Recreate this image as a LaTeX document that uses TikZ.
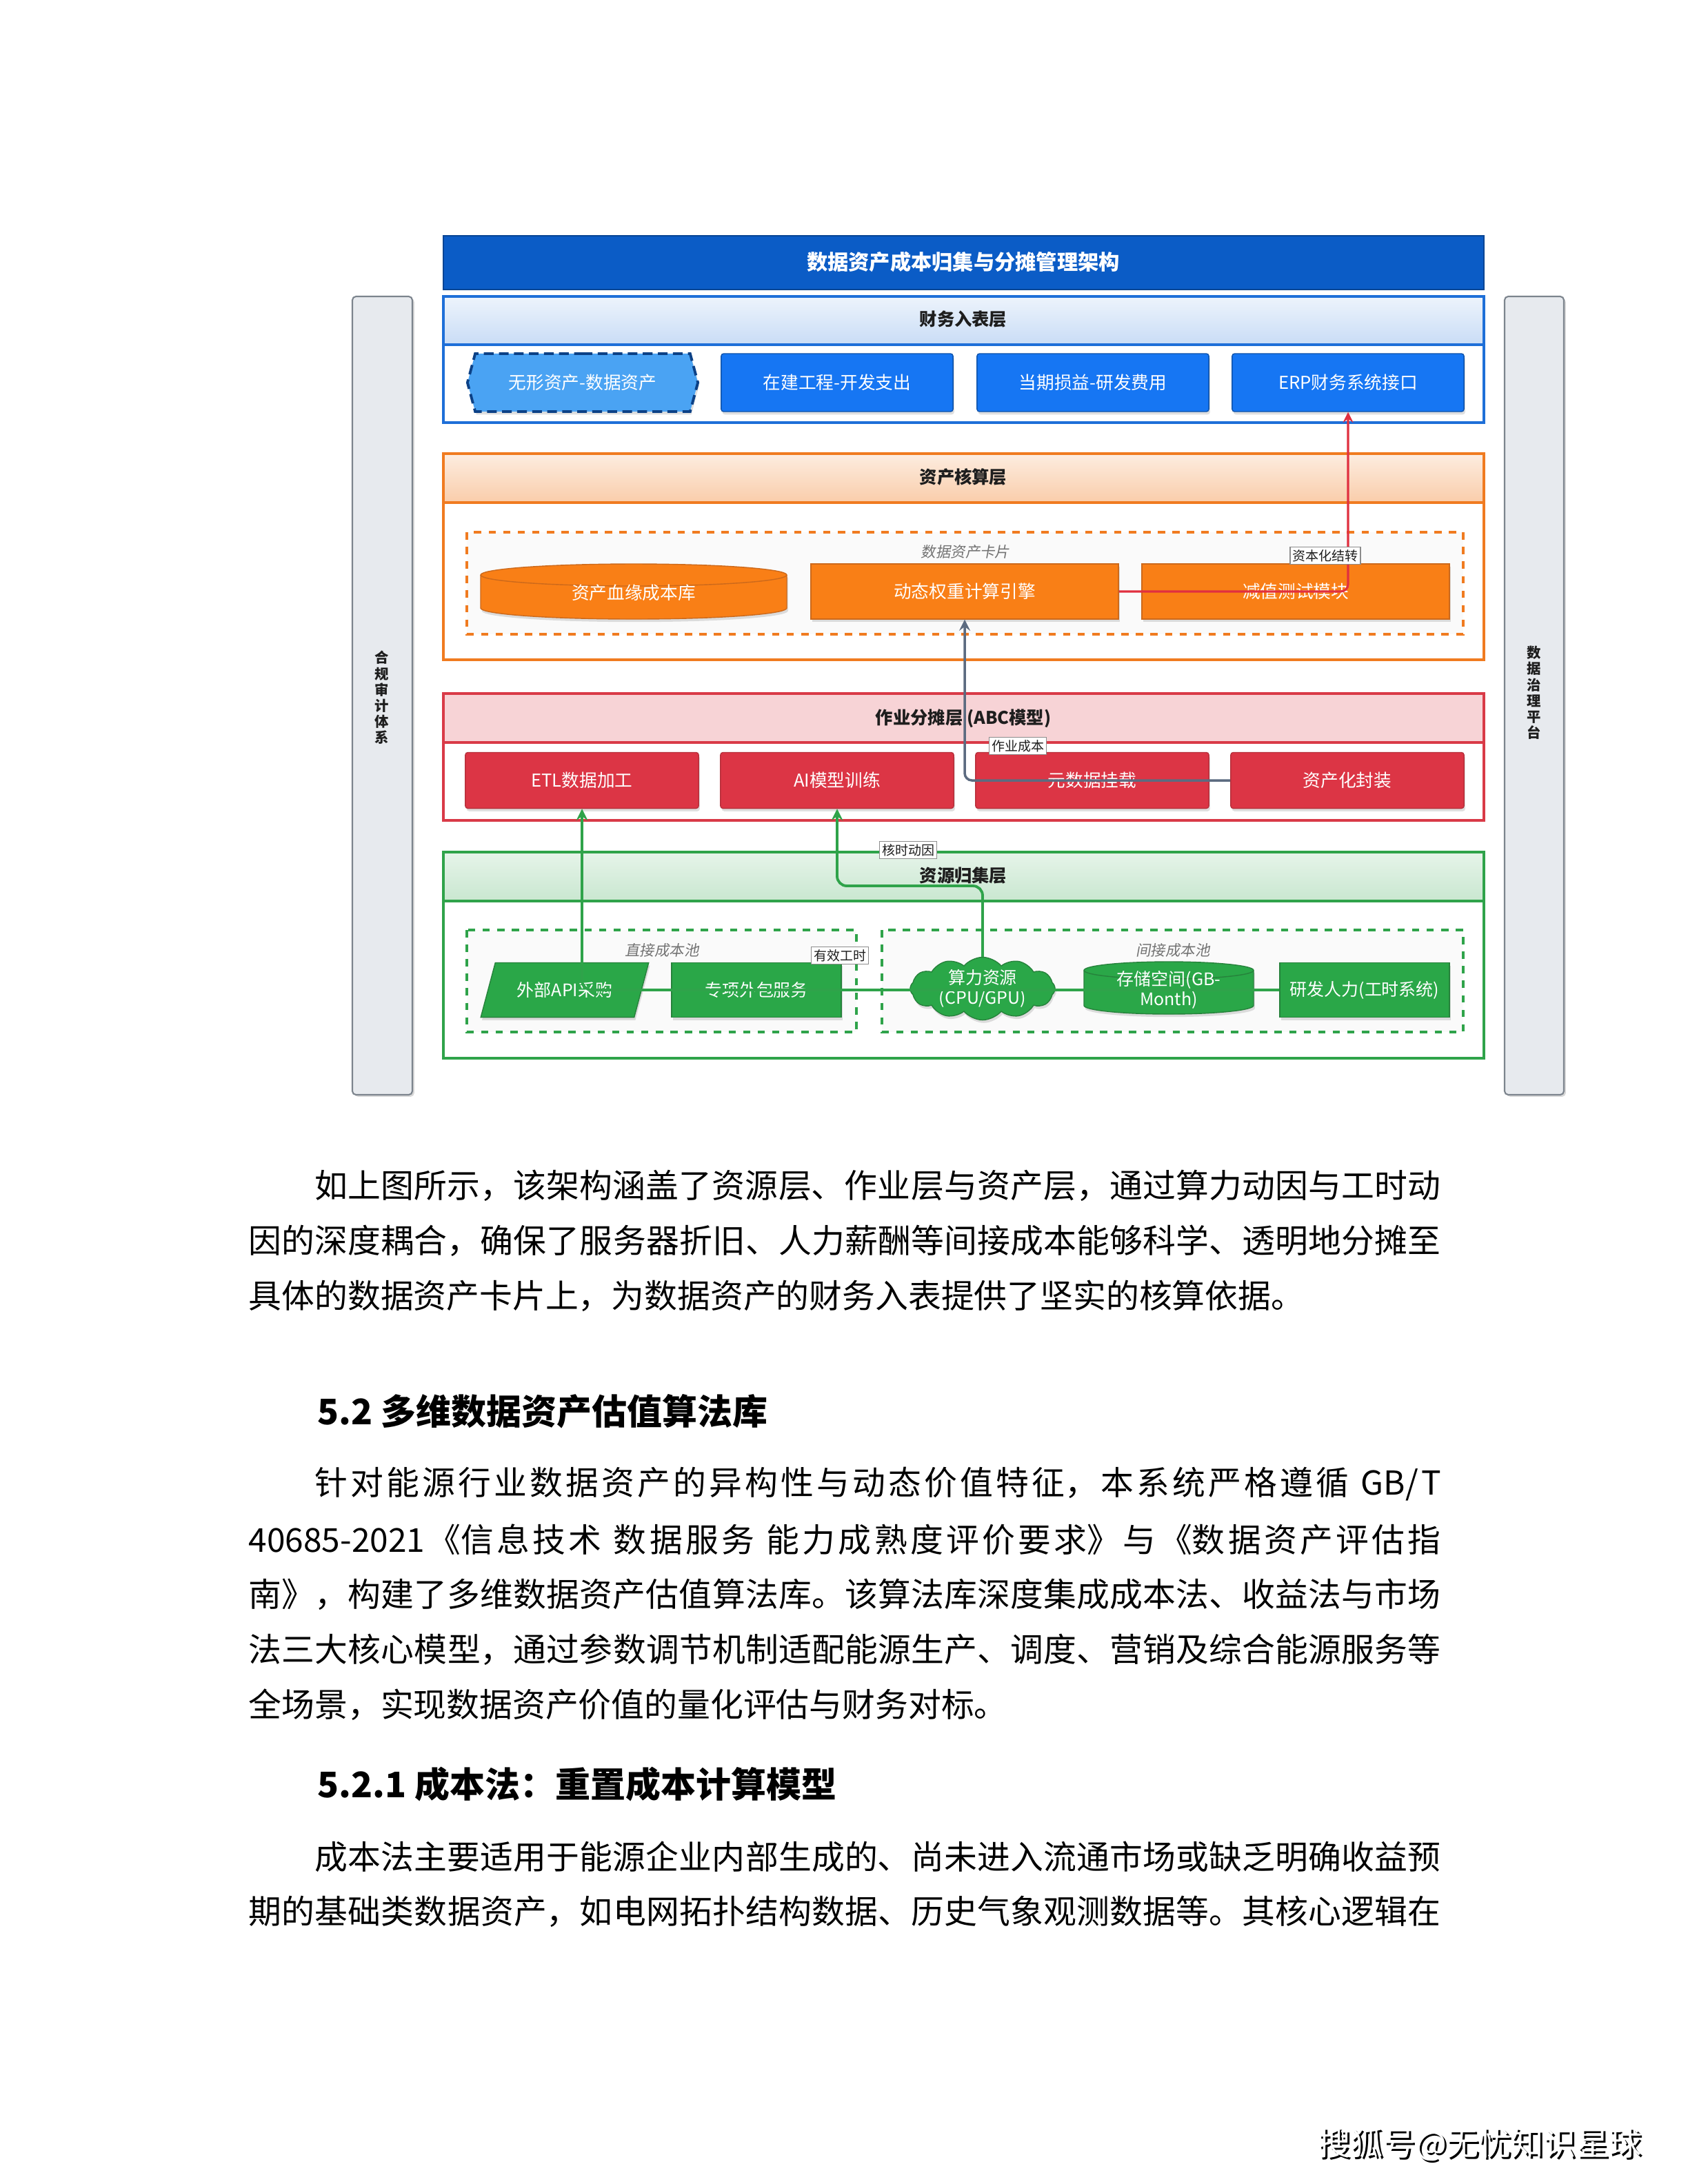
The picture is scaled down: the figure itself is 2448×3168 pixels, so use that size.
\documentclass[tikz,border=0pt]{standalone}
\usepackage{fontspec}
\setmainfont{Noto Sans CJK SC}
\newfontfamily\slantfont[FakeSlant=0.18]{Noto Sans CJK SC}
\usetikzlibrary{shapes.geometric,shapes.symbols,shadows}
\XeTeXlinebreaklocale "zh"
\XeTeXlinebreakskip=0pt plus 1pt minus 0.1pt

\definecolor{titleblue}{HTML}{0B5CC6}
\definecolor{finblue}{HTML}{1676F3}
\definecolor{finline}{HTML}{1E6FD8}
\definecolor{hexblue}{HTML}{4AA3F3}
\definecolor{assetorange}{HTML}{F97F16}
\definecolor{assetline}{HTML}{F07B20}
\definecolor{abcred}{HTML}{DC3545}
\definecolor{abcline}{HTML}{D93A47}
\definecolor{resgreen}{HTML}{2AA748}
\definecolor{resline}{HTML}{2FA34A}
\definecolor{barfill}{HTML}{E7EAEE}
\definecolor{barline}{HTML}{7C848D}
\definecolor{flowred}{HTML}{E03040}
\definecolor{flowgray}{HTML}{5C6B80}
\definecolor{inktext}{HTML}{1E1E1E}

\newcommand{\fullline}[1]{{\parfillskip=0pt\relax #1\par}}
% drum: centre x, centre y, half width, half height, cap radius (px), style
\newcommand{\drum}[6]{%
  \filldraw[#6,nodeshadow] (#1-#3,#2-#4+#5) -- (#1-#3,#2+#4-#5)
    arc[start angle=180,end angle=360,x radius=#3*0.01cm,y radius=#5*0.01cm]
    -- (#1+#3,#2-#4+#5)
    arc[start angle=0,end angle=180,x radius=#3*0.01cm,y radius=#5*0.01cm] -- cycle;
  \draw[#6,fill=none] (#1-#3,#2-#4+#5)
    arc[start angle=180,end angle=360,x radius=#3*0.01cm,y radius=#5*0.01cm];
}

\begin{document}
\begin{tikzpicture}[x=0.01cm,y=-0.01cm,
    nodeshadow/.style={drop shadow={opacity=0.25,shadow xshift=0.5pt,shadow yshift=-1.2pt}},
    titlebar/.style={fill=titleblue,draw=titleblue!75!black,line width=0.8pt},
    layertitle/.style={font=\fontsize{7.2pt}{8pt}\selectfont\bfseries,text=inktext},
    finbox/.style={draw=finblue!70!black,fill=finblue,text=white,rounded corners=1pt,
        minimum width=3.36cm,minimum height=0.84cm,inner sep=0pt,
        font=\fontsize{7.3pt}{8.5pt}\selectfont,nodeshadow},
    hexbox/.style={shape=signal,signal to=east and west,signal pointer angle=150,
        draw=finblue!55!black,fill=hexblue,text=white,dashed,
        dash pattern=on 4pt off 2.2pt,line width=1.1pt,
        minimum width=3.34cm,minimum height=0.84cm,inner sep=0pt,
        font=\fontsize{7.3pt}{8.5pt}\selectfont,nodeshadow},
    assetbox/.style={draw=assetline!85!black,fill=assetorange,text=white,
        minimum width=4.46cm,minimum height=0.80cm,inner sep=0pt,
        font=\fontsize{7.3pt}{8.5pt}\selectfont,nodeshadow},
    assetdrum/.style={draw=assetline!85!black,fill=assetorange},
    abcbox/.style={draw=abcline!85!black,fill=abcred,text=white,rounded corners=1pt,
        minimum width=3.38cm,minimum height=0.81cm,inner sep=0pt,
        font=\fontsize{7.3pt}{8.5pt}\selectfont,nodeshadow},
    resbox/.style={draw=resline!80!black,fill=resgreen,text=white,
        minimum width=2.46cm,minimum height=0.79cm,inner sep=0pt,align=center,
        font=\fontsize{7.1pt}{8.4pt}\selectfont,nodeshadow},
    resdrum/.style={draw=resline!80!black,fill=resgreen},
    drumtext/.style={text=white,inner sep=0pt,align=center},
    poollabel/.style={font=\fontsize{6.1pt}{7pt}\slantfont,text=black!55},
    sidebar/.style={draw=barline,fill=barfill,rounded corners=1.5pt,line width=0.6pt,
        drop shadow={opacity=0.3,shadow xshift=0.8pt,shadow yshift=-0.8pt}},
    sidetext/.style={align=center,font=\fontsize{5.8pt}{6.6pt}\selectfont\bfseries,text=inktext},
    tag/.style={draw=black!45,fill=white,inner sep=1pt,
        font=\fontsize{5.4pt}{6pt}\selectfont,text=inktext},
    redflow/.style={->,>=stealth,draw=flowred,line width=0.9pt,rounded corners=3pt},
    grayflow/.style={->,>=stealth,draw=flowgray,line width=1pt,rounded corners=3pt},
    greenflow/.style={->,>=stealth,draw=resline,line width=1.1pt,rounded corners=4pt},
    bodytext/.style={anchor=west,text width=17.28cm,align=justify,inner sep=0pt,
        font=\fontsize{13.6pt}{16pt}\selectfont,text=black},
    headline/.style={anchor=west,inner sep=0pt,
        font=\fontsize{14.5pt}{16pt}\selectfont\bfseries,text=black}
]
    \useasboundingbox (0,0) rectangle (2448,3168);
    \fill[white] (0,0) rectangle (2448,3168);

    % side bars
    \draw[sidebar] (511,430) rectangle (598,1588);
    \node[sidetext] (audit) at (554,1012) {合\\规\\审\\计\\体\\系};
    \draw[sidebar] (2182,430) rectangle (2268,1588);
    \node[sidetext] (govern) at (2225,1005) {数\\据\\治\\理\\平\\台};

    % title
    \draw[titlebar] (643,342) rectangle (2152,420);
    \node[font=\fontsize{8.6pt}{9pt}\selectfont\bfseries,text=white] (title) at (1397,380)
        {数据资产成本归集与分摊管理架构};

    % finance layer
    \draw[finline,line width=0.9pt,fill=white] (643,430) rectangle (2152,613);
    \draw[finline,line width=0.9pt,top color=finline!8,bottom color=finline!24] (643,430) rectangle (2152,500);
    \node[layertitle] (finhead) at (1397,463) {财务入表层};
    \node[hexbox] (intang) at (845,555) {无形资产-数据资产};
    \node[finbox] (cip) at (1214,555) {在建工程-开发支出};
    \node[finbox] (pnl) at (1585,555) {当期损益-研发费用};
    \node[finbox] (erp) at (1955,555) {ERP财务系统接口};

    % asset layer
    \draw[assetline,line width=0.9pt,fill=white] (643,658) rectangle (2152,957);
    \draw[assetline,line width=0.9pt,top color=assetline!14,bottom color=assetline!38] (643,658) rectangle (2152,729);
    \node[layertitle] (assethead) at (1397,692) {资产核算层};
    \draw[assetline,dashed,line width=0.9pt,fill=black!2] (677,772) rectangle (2122,920);
    \node[poollabel] (card) at (1400,800) {数据资产卡片};
    \drum{919}{858}{222}{40}{16}{assetdrum}
    \node[drumtext,font=\fontsize{7.3pt}{8.5pt}\selectfont] (lineage) at (919,860) {资产血缘成本库};
    \node[assetbox] (engine) at (1399,858) {动态权重计算引擎};
    \node[assetbox] (impair) at (1879,858) {减值测试模块};

    % activity layer
    \draw[abcline,line width=0.9pt,fill=white] (643,1006) rectangle (2152,1190);
    \draw[abcline,line width=0.9pt,fill=abcred!22] (643,1006) rectangle (2152,1077);
    \node[layertitle] (abchead) at (1397,1042) {作业分摊层 (ABC模型)};
    \node[abcbox] (etl) at (844,1132) {ETL数据加工};
    \node[abcbox] (ai) at (1214,1132) {AI模型训练};
    \node[abcbox] (meta) at (1584,1132) {元数据挂载};
    \node[abcbox] (pack) at (1954,1132) {资产化封装};

    % resource layer
    \draw[resline,line width=0.9pt,fill=white] (643,1236) rectangle (2152,1535);
    \draw[resline,line width=0.9pt,top color=resline!12,bottom color=resline!26] (643,1236) rectangle (2152,1307);
    \node[layertitle] (reshead) at (1397,1270) {资源归集层};
    \draw[resline,dashed,line width=0.9pt,fill=black!2] (677,1349) rectangle (1242,1497);
    \draw[resline,dashed,line width=0.9pt,fill=black!2] (1279,1349) rectangle (2122,1497);
    \node[poollabel] (directpool) at (960,1378) {直接成本池};
    \node[poollabel] (indirectpool) at (1701,1378) {间接成本池};
    \node[resbox,shape=trapezium,trapezium left angle=58,trapezium right angle=122,
        trapezium stretches=true,minimum width=2.44cm] (api) at (819,1436) {外部API采购};
    \node[resbox] (outsrc) at (1097,1436) {专项外包服务};
    \node[resbox,shape=cloud,cloud puffs=12,cloud puff arc=100,aspect=3,inner sep=-1pt,
        minimum width=2.1cm,minimum height=0.6cm] (compute) at (1425,1434) {算力资源\\(CPU/GPU)};
    \drum{1695}{1433}{123}{38}{12.5}{resdrum}
    \node[drumtext,font=\fontsize{7.1pt}{8.4pt}\selectfont] (storage) at (1695,1436) {存储空间(GB-\\Month)};
    \node[resbox] (labor) at (1979,1436) {研发人力(工时系统)};

    % connectors
    \draw[redflow] (engine.east) -| (erp.south);
    \node[tag] (captag) at (1922,806) {资本化结转};
    \draw[grayflow] (pack.west) -| (engine.south);
    \node[tag] (abctag) at (1476,1082) {作业成本};
    \draw[greenflow] (labor.west) -| (etl.south);
    \node[tag] (hourtag) at (1218,1386) {有效工时};
    \coordinate (aibend) at (1214,1285);
    \draw[greenflow] (compute.north) |- (aibend) -- (ai.south);
    \node[tag] (coretag) at (1317,1233) {核时动因};

    % text below the figure
    \node[bodytext] (p1a) at (360,1720) {\fullline{\hspace*{2em}如上图所示，该架构涵盖了资源层、作业层与资产层，通过算力动因与工时动}};
    \node[bodytext] (p1b) at (360,1800) {\fullline{因的深度耦合，确保了服务器折旧、人力薪酬等间接成本能够科学、透明地分摊至}};
    \node[bodytext] (p1c) at (360,1880) {具体的数据资产卡片上，为数据资产的财务入表提供了坚实的核算依据。};

    \node[headline] (sec52) at (460,2047) {5.2 多维数据资产估值算法库};

    \node[bodytext] (p2a) at (360,2153) {\fullline{\hspace*{2em}针对能源行业数据资产的异构性与动态价值特征，本系统严格遵循 GB/T}};
    \node[bodytext] (p2b) at (360,2233) {\fullline{40685-2021《信息技术 数据服务 能力成熟度评价要求》与《数据资产评估指}};
    \node[bodytext] (p2c) at (360,2313) {\fullline{南》，构建了多维数据资产估值算法库。该算法库深度集成成本法、收益法与市场}};
    \node[bodytext] (p2d) at (360,2393) {\fullline{法三大核心模型，通过参数调节机制适配能源生产、调度、营销及综合能源服务等}};
    \node[bodytext] (p2e) at (360,2473) {全场景，实现数据资产价值的量化评估与财务对标。};

    \node[headline] (sec521) at (460,2588) {5.2.1 成本法：重置成本计算模型};

    \node[bodytext] (p3a) at (360,2693) {\fullline{\hspace*{2em}成本法主要适用于能源企业内部生成的、尚未进入流通市场或缺乏明确收益预}};
    \node[bodytext] (p3b) at (360,2773) {\fullline{期的基础类数据资产，如电网拓扑结构数据、历史气象观测数据等。其核心逻辑在}};

    % footer mark
    \node[font=\fontsize{13.4pt}{14pt}\selectfont,text=black] (footshade) at (2149,3114) {搜狐号@无忧知识星球};
    \node[font=\fontsize{13.4pt}{14pt}\selectfont,text=white] (footer) at (2146,3111) {搜狐号@无忧知识星球};
\end{tikzpicture}
\end{document}
